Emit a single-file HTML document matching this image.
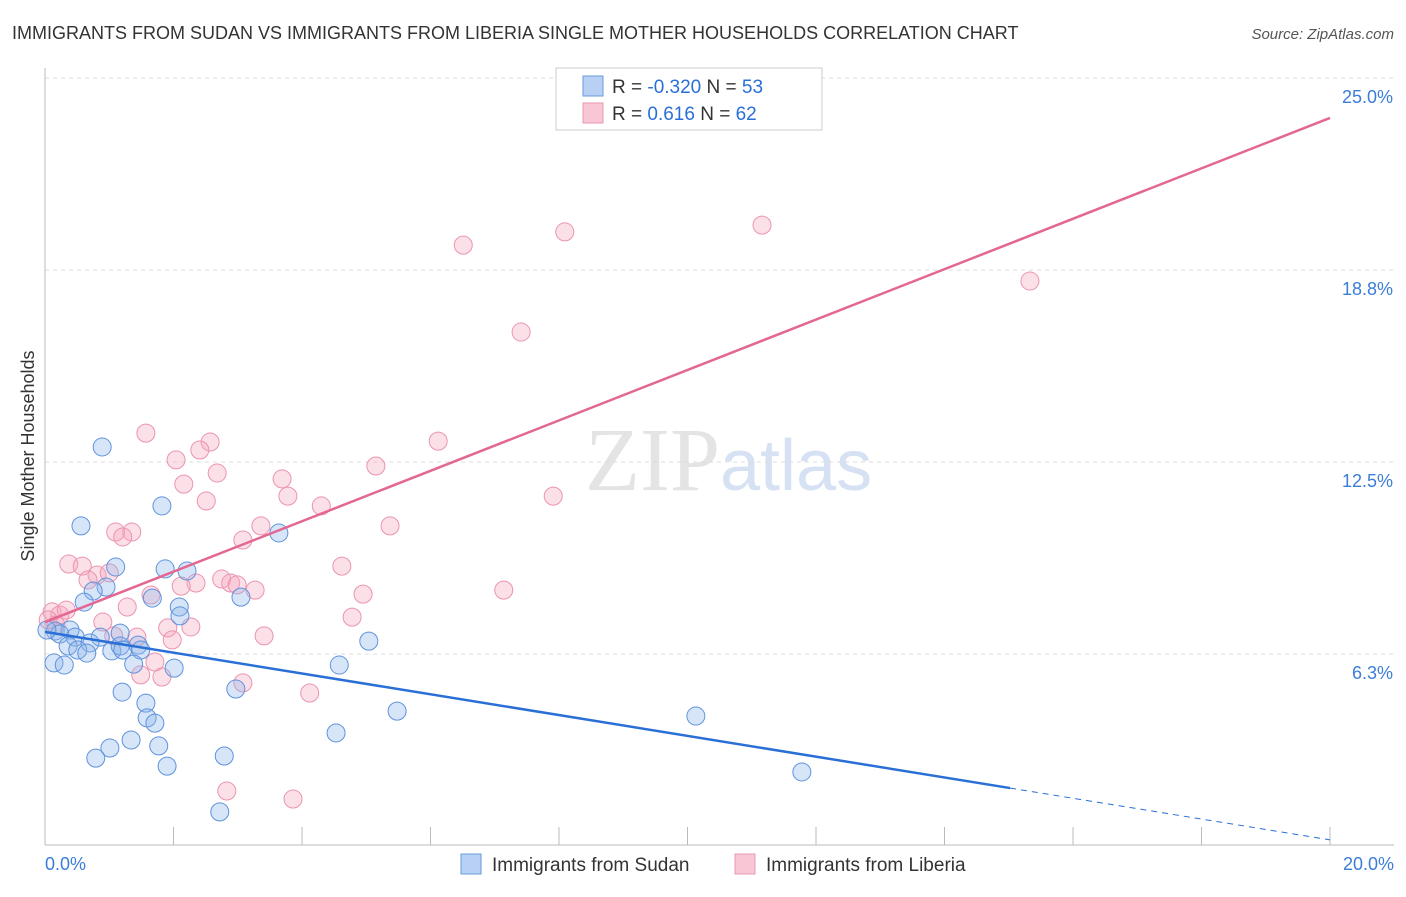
<!DOCTYPE html>
<html><head><meta charset="utf-8"><style>
body{margin:0;background:#fff;font-family:"Liberation Sans",sans-serif;}
</style></head><body>
<svg width="1406" height="892" xmlns="http://www.w3.org/2000/svg">
<text x="12" y="39" font-size="18" fill="#333">IMMIGRANTS FROM SUDAN VS IMMIGRANTS FROM LIBERIA SINGLE MOTHER HOUSEHOLDS CORRELATION CHART</text>
<text x="1394" y="39" font-size="15" fill="#555" font-style="italic" text-anchor="end">Source: ZipAtlas.com</text>
<text x="720" y="490" font-size="90" font-family="Liberation Serif,serif" fill="#e4e4e4" text-anchor="end">ZIP</text>
<text x="720" y="490" font-size="72" fill="#d6e2f3">atlas</text>
<g id="grid"></g><g id="axes"></g><g id="pts"></g><g id="lines"></g>
<text transform="translate(34,456) rotate(-90)" font-size="18" fill="#333" text-anchor="middle">Single Mother Households</text>
<g>
<rect x="556" y="68" width="266" height="62" fill="#fff" stroke="#ccc"/>
<rect x="583" y="76" width="20" height="20" fill="#b8d0f3" stroke="#6a9ad8"/>
<rect x="583" y="103" width="20" height="20" fill="#f8c6d4" stroke="#e898b0"/>
<text x="612" y="93" font-size="19" fill="#333">R = <tspan fill="#2a6fd6">-0.320</tspan>   N = <tspan fill="#2a6fd6">53</tspan></text>
<text x="612" y="120" font-size="19" fill="#333">R =   <tspan fill="#2a6fd6">0.616</tspan>   N = <tspan fill="#2a6fd6">62</tspan></text>
</g>
<g>
<rect x="461" y="854" width="20" height="20" fill="#b8d0f3" stroke="#6a9ad8"/>
<text x="492" y="871" font-size="19" fill="#333">Immigrants from Sudan</text>
<rect x="735" y="854" width="20" height="20" fill="#f8c6d4" stroke="#e898b0"/>
<text x="766" y="871" font-size="19" fill="#333">Immigrants from Liberia</text>
</g>
</svg>
<script>
const blueX=[0.89,0.56,1.82,1.1,1.87,2.21,0.95,0.75,1.67,3.05,0.61,2.09,2.1,3.64,0.16,0.39,0.23,0.47,0.86,1.17,0.7,0.36,0.51,0.65,1.04,1.17,1.21,1.45,1.49,1.38,2.01,0.14,0.3,4.58,5.04,1.2,2.97,1.57,1.59,1.71,5.48,4.53,1.34,1.01,1.77,0.79,2.79,1.9,2.72,10.13,11.78,0.03];
const blueY=[12.99,10.42,11.07,9.08,9.02,8.95,8.43,8.3,8.07,8.1,7.94,7.78,7.49,10.19,7.0,7.03,6.9,6.8,6.8,6.93,6.61,6.51,6.38,6.28,6.35,6.51,6.38,6.54,6.38,5.92,5.79,5.96,5.89,5.89,6.67,5.01,5.11,4.65,4.17,4.0,4.39,3.68,3.45,3.19,3.26,2.86,2.93,2.6,1.11,4.23,2.41,7.03];
const pinkX=[6.51,8.09,11.16,15.33,7.41,1.57,2.57,2.41,2.04,6.12,5.15,2.68,2.16,3.69,3.78,2.51,4.3,7.91,5.37,3.36,1.1,1.35,1.21,3.08,0.37,0.58,0.81,1.0,0.67,4.62,2.75,2.35,2.12,2.89,2.99,3.27,1.65,4.95,7.14,1.28,0.9,2.27,1.91,4.78,0.11,0.23,0.33,0.05,0.17,1.43,1.98,1.07,3.41,1.71,1.49,1.82,3.08,4.12,2.83,3.86];
const pinkY=[19.56,19.99,20.21,18.39,16.73,13.44,13.15,12.89,12.57,13.18,12.37,12.14,11.78,11.95,11.39,11.23,11.07,11.39,10.42,10.42,10.22,10.22,10.06,9.96,9.18,9.11,8.82,8.89,8.66,9.11,8.69,8.56,8.46,8.56,8.5,8.33,8.17,8.2,8.33,7.78,7.29,7.13,7.1,7.45,7.62,7.52,7.68,7.36,7.19,6.8,6.71,6.84,6.84,5.99,5.57,5.5,5.31,4.98,1.79,1.53];
const blueTrend=[6.97,0.2], blueSolidEnd=15.02;
const pinkTrend=[7.29,23.7];
const yTicks=[25.0,18.8,12.5,6.3], yTickVals=[25,18.75,12.5,6.25];
const NS="http://www.w3.org/2000/svg";
const X=v=>45+v*64.25, Y=v=>846-v*30.72;
function mk(t,a,p){const e=document.createElementNS(NS,t);for(const k in a)e.setAttribute(k,a[k]);document.getElementById(p).appendChild(e);return e;}
yTickVals.forEach((v,i)=>{
 const g=mk('line',{x1:45,x2:1394,y1:Y(v),y2:Y(v),stroke:'#ddd','stroke-dasharray':'4,4'},'grid');
 
 
 const t=mk('text',{x:1393,y:Y(v)+25,'font-size':18,fill:'#3b7dd8','text-anchor':'end'},'grid');
 t.textContent=yTicks[i].toFixed(1)+'%';
 
 
});
let a=mk('line',{x1:45,x2:45,y1:68,y2:845,stroke:'#bbb'},'axes');


a=mk('line',{x1:45,x2:1394,y1:845,y2:845,stroke:'#bbb'},'axes');


for(let v=2;v<=20;v+=2){const t=mk('line',{x1:X(v),x2:X(v),y1:827,y2:845,stroke:'#bbb'},'axes');
 
 }
[[0,'0.0%','start',45],[20,'20.0%','end',1394]].forEach(d=>{const t=mk('text',{x:d[3],y:870,'font-size':18,fill:'#3b7dd8','text-anchor':d[2]},'axes');t.textContent=d[1];
 
 });
pinkX.forEach((v,i)=>{const c=mk('circle',{cx:X(v),cy:Y(pinkY[i]),r:9,fill:'rgba(245,165,190,0.35)',stroke:'#eb94b0','stroke-width':1},'pts');
 
 });
blueX.forEach((v,i)=>{const c=mk('circle',{cx:X(v),cy:Y(blueY[i]),r:9,fill:'rgba(140,180,235,0.35)',stroke:'#5f93dc','stroke-width':1},'pts');
 
 });
const by=x=>blueTrend[0]+(blueTrend[1]-blueTrend[0])*x/20;
let l=mk('line',{x1:X(0),y1:Y(by(0)),x2:X(blueSolidEnd),y2:Y(by(blueSolidEnd)),stroke:'#2a6fd6','stroke-width':2.5},'lines');


l=mk('line',{x1:X(blueSolidEnd),y1:Y(by(blueSolidEnd)),x2:X(20),y2:Y(by(20)),stroke:'#2a6fd6','stroke-width':1,'stroke-dasharray':'6,5'},'lines');


l=mk('line',{x1:X(0),y1:Y(pinkTrend[0]),x2:X(20),y2:Y(pinkTrend[1]),stroke:'#e36793','stroke-width':2.5},'lines');


</script>
</body></html>
